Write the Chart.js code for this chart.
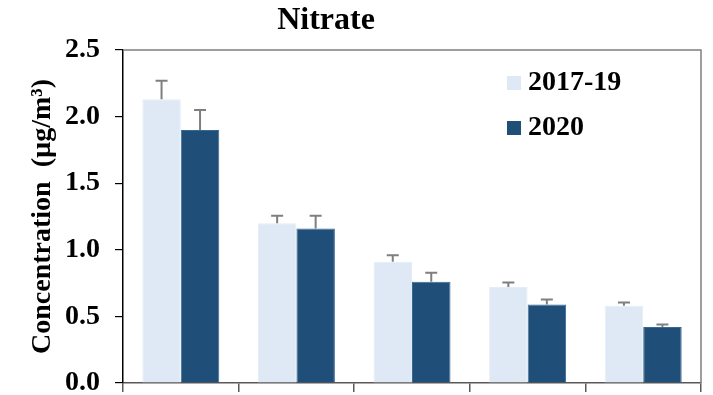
<!DOCTYPE html>
<html>
<head>
<meta charset="utf-8">
<script src="https://cdn.jsdelivr.net/npm/chart.js@4/dist/chart.umd.min.js"></script>
<style>
  html, body { margin: 0; padding: 0; background: #ffffff; }
  #wrap { width: 713px; height: 395px; }
</style>
</head>
<body>
<div id="wrap"><canvas id="c" width="713" height="395"></canvas></div>
<script>
// Five site groups, two periods, mean nitrate with upper error bars
const categories = ['', '', '', '', ''];
const seriesNames = ['2017-19', '2020'];
const mean2017_19 = [2.13, 1.20, 0.91, 0.72, 0.58];
const err2017_19  = [0.14, 0.055, 0.05, 0.035, 0.025];
const mean2020    = [1.90, 1.16, 0.76, 0.59, 0.42];
const err2020     = [0.15, 0.095, 0.068, 0.037, 0.02];
const yTicks = [0, 0.5, 1.0, 1.5, 2.0, 2.5];
const chartTitle = 'Nitrate';
const yTitle = 'Concentration  (\u00b5g/m\u00b3)';

const FONT = '"Liberation Serif", "Times New Roman", serif';
const errors = [err2017_19, err2020];

// Upper error bars drawn from each bar's value plus its error
const errorBars = {
  id: 'errorBars',
  afterDatasetsDraw(chart) {
    const ctx = chart.ctx;
    const y = chart.scales.y;
    ctx.save();
    ctx.strokeStyle = '#7f7f7f';
    ctx.lineWidth = 2;
    chart.data.datasets.forEach((ds, di) => {
      const meta = chart.getDatasetMeta(di);
      meta.data.forEach((bar, i) => {
        const top = y.getPixelForValue(ds.data[i] + errors[di][i]);
        ctx.beginPath();
        ctx.moveTo(bar.x, bar.y);
        ctx.lineTo(bar.x, top);
        ctx.moveTo(bar.x - 6, top);
        ctx.lineTo(bar.x + 6, top);
        ctx.stroke();
      });
    });
    ctx.restore();
  }
};

// Top and right frame lines, title and the in-plot legend
const frameAndText = {
  id: 'frameAndText',
  afterDraw(chart) {
    const ctx = chart.ctx;
    const a = chart.chartArea;
    ctx.save();
    ctx.strokeStyle = '#7f7f7f';
    ctx.lineWidth = 1.5;
    ctx.beginPath();
    ctx.moveTo(a.left, a.top);
    ctx.lineTo(a.right, a.top);
    ctx.lineTo(a.right, a.bottom);
    ctx.stroke();

    ctx.fillStyle = '#000000';
    ctx.font = 'bold 32px ' + FONT;
    ctx.textAlign = 'center';
    ctx.textBaseline = 'middle';
    ctx.fillText(chartTitle, 326, 21);

    ctx.font = 'bold 28px ' + FONT;
    ctx.textAlign = 'left';
    chart.data.datasets.forEach((ds, i) => {
      const cy = 83 + i * 45;
      ctx.fillStyle = ds.backgroundColor;
      ctx.fillRect(507, cy - 7, 14, 14);
      ctx.fillStyle = '#000000';
      ctx.fillText(ds.label, 528, cy);
    });
    ctx.restore();
  }
};

new Chart(document.getElementById('c'), {
  type: 'bar',
  data: {
    labels: categories,
    datasets: [
      { label: seriesNames[0], data: mean2017_19, backgroundColor: '#DEE9F5',
        borderColor: '#E4EDF7', borderWidth: 1 },
      { label: seriesNames[1], data: mean2020, backgroundColor: '#1F4E79',
        borderColor: '#3A6894', borderWidth: 1 }
    ]
  },
  options: {
    responsive: false,
    animation: false,
    layout: { padding: { top: 50, right: 12, left: 0, bottom: 0 } },
    datasets: { bar: { categoryPercentage: 0.666, barPercentage: 1.0 } },
    plugins: { legend: { display: false }, tooltip: { enabled: false }, title: { display: false } },
    scales: {
      x: {
        afterFit(s) { s.height = 12; s.paddingLeft = 0; s.paddingRight = 0; },
        ticks: { display: false },
        grid: { display: true, drawOnChartArea: false, offset: true, tickLength: 9,
                color: '#595959', lineWidth: 1.5 },
        border: { display: true, color: '#595959', width: 1.5 }
      },
      y: {
        min: 0, max: 2.5,
        afterFit(s) { s.width = 123; s.paddingTop = 0; s.paddingBottom = 0; },
        afterBuildTicks(s) { s.ticks = yTicks.map(v => ({ value: v })); },
        ticks: {
          padding: 15, color: '#000000',
          font: { family: FONT, size: 28, weight: 'bold' },
          callback: v => Number(v).toFixed(1)
        },
        grid: { display: true, drawOnChartArea: false, tickLength: 8, color: '#000000', lineWidth: 1.2 },
        border: { display: true, color: '#000000', width: 1.5 },
        title: {
          display: true, text: yTitle, color: '#000000',
          font: { family: FONT, size: 28, weight: 'bold' },
          padding: { top: 26, bottom: 0 }
        }
      }
    }
  },
  plugins: [errorBars, frameAndText]
});
</script>
</body>
</html>
